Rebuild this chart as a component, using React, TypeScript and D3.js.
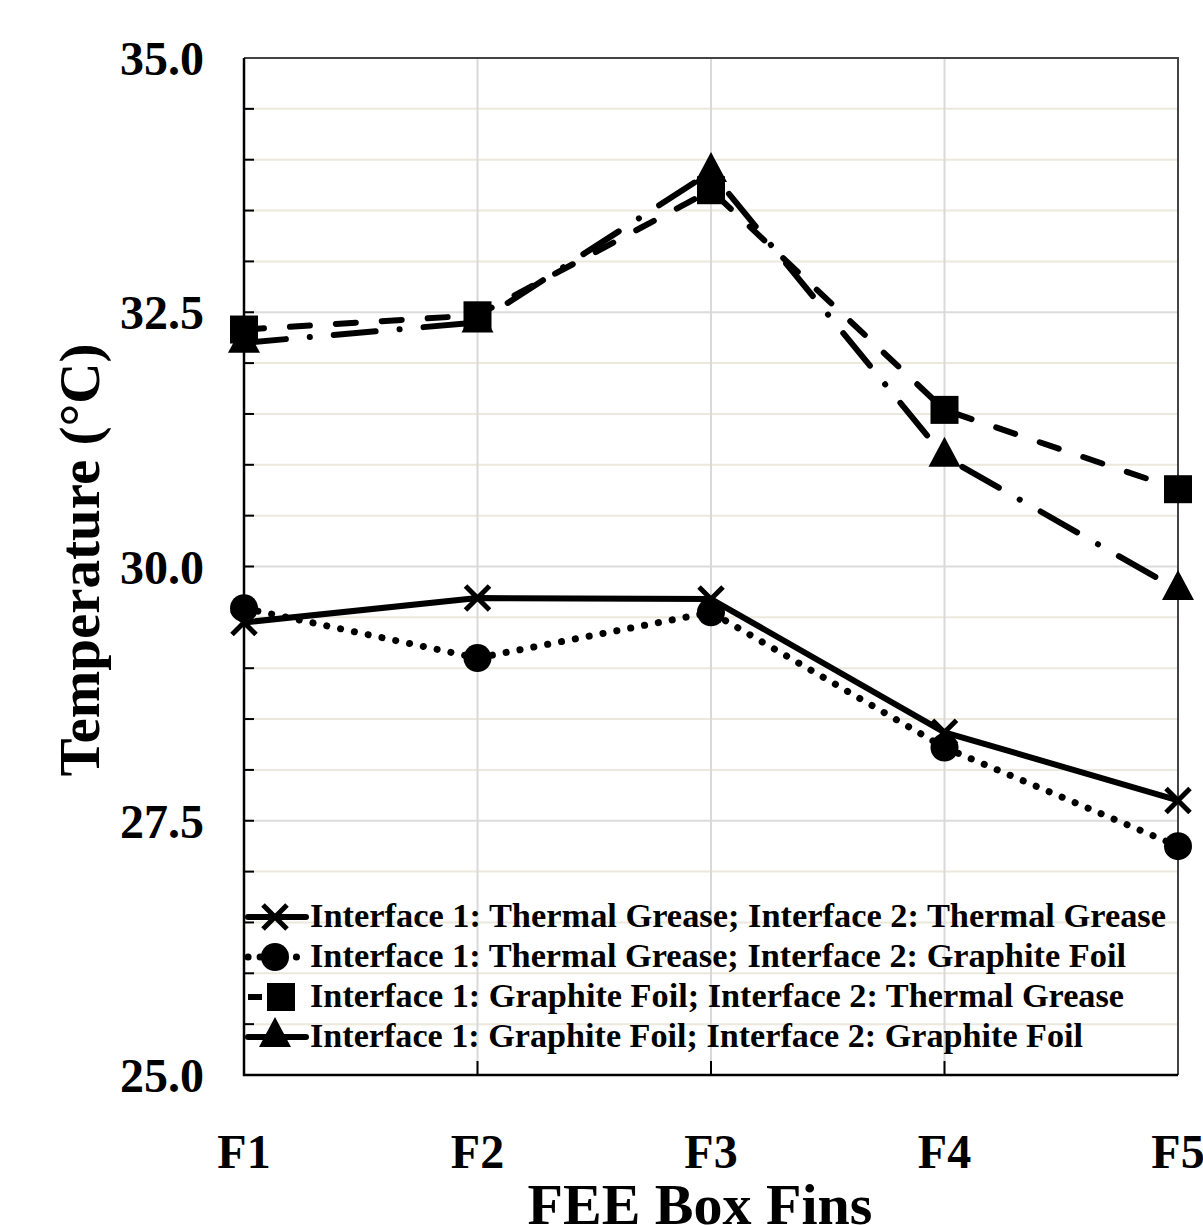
import * as d3 from "d3";
import { useEffect, useRef } from "react";

const fins = ["F1", "F2", "F3", "F4", "F5"];
const greaseGrease = [29.45, 29.69, 29.68, 28.37, 27.7];
const greaseFoil = [29.59, 29.1, 29.55, 28.22, 27.25];
const foilGrease = [32.33, 32.47, 33.7, 31.54, 30.76];
const foilFoil = [32.2, 32.4, 33.88, 31.08, 29.77];
const yTicks = [25, 27.5, 30, 32.5, 35];
const legendLabels = [
  "Interface 1: Thermal Grease; Interface 2: Thermal Grease",
  "Interface 1: Thermal Grease; Interface 2: Graphite Foil",
  "Interface 1: Graphite Foil; Interface 2: Thermal Grease",
  "Interface 1: Graphite Foil; Interface 2: Graphite Foil",
];

const FONT = "'Liberation Serif', 'Times New Roman', serif";

type Series = {
  values: number[];
  marker: "x" | "circle" | "square" | "triangle";
  dash: string | null;
  width: number;
};

const series: Series[] = [
  { values: greaseGrease, marker: "x", dash: null, width: 6 },
  { values: greaseFoil, marker: "circle", dash: "0.1 14", width: 7 },
  { values: foilGrease, marker: "square", dash: "20 26", width: 6 },
  { values: foilFoil, marker: "triangle", dash: "42 24 0.1 24", width: 6 },
];

export default function App() {
  const ref = useRef<SVGSVGElement>(null);

  useEffect(() => {
    const svg = d3.select(ref.current);
    svg.selectAll("*").remove();

    const left = 244;
    const right = 1178;
    const top = 58;
    const bottom = 1075;

    const x = d3.scalePoint<string>().domain(fins).range([left, right]);
    const y = d3.scaleLinear().domain([25, 35]).range([bottom, top]);

    svg.append("rect").attr("width", 1203).attr("height", 1225).attr("fill", "#fff");

    // grid
    const minor = d3.range(25.5, 35, 0.5).filter((v) => !yTicks.includes(v));
    svg
      .append("g")
      .selectAll("line")
      .data(minor)
      .join("line")
      .attr("x1", left)
      .attr("x2", right)
      .attr("y1", (d) => y(d))
      .attr("y2", (d) => y(d))
      .attr("stroke", "#ece8dc")
      .attr("stroke-width", 2);
    svg
      .append("g")
      .selectAll("line")
      .data(yTicks.slice(1, -1))
      .join("line")
      .attr("x1", left)
      .attr("x2", right)
      .attr("y1", (d) => y(d))
      .attr("y2", (d) => y(d))
      .attr("stroke", "#dcdcdc")
      .attr("stroke-width", 2);
    svg
      .append("g")
      .selectAll("line")
      .data(fins.slice(1, -1))
      .join("line")
      .attr("x1", (d) => x(d)!)
      .attr("x2", (d) => x(d)!)
      .attr("y1", top)
      .attr("y2", bottom)
      .attr("stroke", "#d9d9d9")
      .attr("stroke-width", 2);

    // frame
    svg
      .append("path")
      .attr("d", `M${left},${top}H${right}V${bottom}`)
      .attr("fill", "none")
      .attr("stroke", "#444")
      .attr("stroke-width", 2);
    svg
      .append("path")
      .attr("d", `M${left},${top}V${bottom}H${right}`)
      .attr("fill", "none")
      .attr("stroke", "#000")
      .attr("stroke-width", 2.5);

    // inward ticks
    svg
      .append("g")
      .selectAll("line")
      .data(d3.range(25.5, 35, 0.5))
      .join("line")
      .attr("x1", left)
      .attr("x2", left + 10)
      .attr("y1", (d) => y(d))
      .attr("y2", (d) => y(d))
      .attr("stroke", "#000")
      .attr("stroke-width", 2);
    svg
      .append("g")
      .selectAll("line")
      .data(fins.slice(1, -1))
      .join("line")
      .attr("x1", (d) => x(d)!)
      .attr("x2", (d) => x(d)!)
      .attr("y1", bottom)
      .attr("y2", bottom - 14)
      .attr("stroke", "#000")
      .attr("stroke-width", 2);

    // tick labels
    svg
      .append("g")
      .selectAll("text")
      .data(yTicks)
      .join("text")
      .attr("x", 204)
      .attr("y", (d) => y(d) + 17)
      .attr("text-anchor", "end")
      .attr("font-family", FONT)
      .attr("font-weight", "bold")
      .attr("font-size", 48)
      .text((d) => d.toFixed(1));
    svg
      .append("g")
      .selectAll("text")
      .data(fins)
      .join("text")
      .attr("x", (d) => x(d)!)
      .attr("y", 1168)
      .attr("text-anchor", "middle")
      .attr("font-family", FONT)
      .attr("font-weight", "bold")
      .attr("font-size", 48)
      .text((d) => d);

    svg
      .append("text")
      .attr("x", 700)
      .attr("y", 1224)
      .attr("text-anchor", "middle")
      .attr("font-family", FONT)
      .attr("font-weight", "bold")
      .attr("font-size", 58)
      .text("FEE Box Fins");
    svg
      .append("text")
      .attr("transform", "translate(99,560) rotate(-90)")
      .attr("text-anchor", "middle")
      .attr("font-family", FONT)
      .attr("font-weight", "bold")
      .attr("font-size", 57)
      .text("Temperature (°C)");

    const drawMarker = (g: d3.Selection<SVGGElement, unknown, null, undefined>, kind: string, cx: number, cy: number) => {
      if (kind === "x") {
        const s = 12;
        g.append("path")
          .attr("d", `M${cx - s},${cy - s}L${cx + s},${cy + s}M${cx - s},${cy + s}L${cx + s},${cy - s}`)
          .attr("stroke", "#000")
          .attr("stroke-width", 5);
      } else if (kind === "circle") {
        g.append("circle").attr("cx", cx).attr("cy", cy).attr("r", 14).attr("fill", "#000");
      } else if (kind === "square") {
        g.append("rect").attr("x", cx - 14).attr("y", cy - 14).attr("width", 28).attr("height", 28).attr("fill", "#000");
      } else {
        g.append("path")
          .attr("d", `M${cx},${cy - 20}L${cx + 16},${cy + 10}L${cx - 16},${cy + 10}Z`)
          .attr("fill", "#000");
      }
    };

    const line = d3
      .line<number>()
      .x((_, i) => x(fins[i])!)
      .y((d) => y(d));

    series.forEach((s) => {
      const g = svg.append("g");
      g.append("path")
        .attr("d", line(s.values) ?? "")
        .attr("fill", "none")
        .attr("stroke", "#000")
        .attr("stroke-width", s.width)
        .attr("stroke-linecap", "round")
        .attr("stroke-linejoin", "round")
        .attr("stroke-dasharray", s.dash ?? null);
      s.values.forEach((v, i) => drawMarker(g, s.marker, x(fins[i])!, y(v)));
    });

    // legend
    const legendRows = d3.scaleLinear().domain([0, 3]).range([917, 1037]);
    legendLabels.forEach((label, i) => {
      const s = series[i];
      const g = svg.append("g");
      const ly = legendRows(i);
      if (s.marker === "square") {
        g.append("line").attr("x1", 248).attr("x2", 262).attr("y1", ly).attr("y2", ly).attr("stroke", "#000").attr("stroke-width", 6);
        drawMarker(g, s.marker, 281, ly);
      } else {
        g.append("line")
          .attr("x1", 248)
          .attr("x2", 306)
          .attr("y1", ly)
          .attr("y2", ly)
          .attr("stroke", "#000")
          .attr("stroke-width", s.width)
          .attr("stroke-linecap", "round")
          .attr("stroke-dasharray", s.marker === "circle" ? "0.1 12" : null);
        drawMarker(g, s.marker, 275, ly);
      }
      g.append("text")
        .attr("x", 310)
        .attr("y", ly + 10)
        .attr("font-family", FONT)
        .attr("font-weight", "bold")
        .attr("font-size", 33)
        .attr("textLength", [856, 816, 814, 773][i])
        .attr("lengthAdjust", "spacingAndGlyphs")
        .text(label);
    });
  }, []);

  return (
    <svg
      ref={ref}
      width={1203}
      height={1225}
      style={{ position: "absolute", left: 0, top: 0 }}
    />
  );
}
